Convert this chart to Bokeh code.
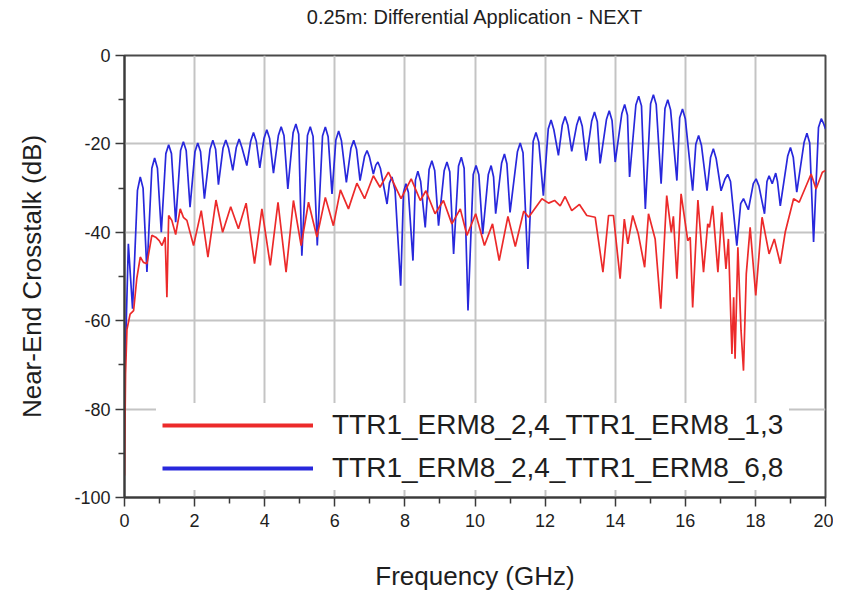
from bokeh.plotting import figure
from bokeh.models import Range1d, FixedTicker, Legend, LegendItem, PrintfTickFormatter, Title
from bokeh.embed import file_html
from bokeh.resources import INLINE

# ---- data ----
title_text = "0.25m: Differential Application - NEXT"
x_ticks = [0, 2, 4, 6, 8, 10, 12, 14, 16, 18, 20]
y_ticks = [0, -20, -40, -60, -80, -100]

blue_label = "TTR1_ERM8_2,4_TTR1_ERM8_6,8"
red_label = "TTR1_ERM8_2,4_TTR1_ERM8_1,3"

blue_freq = [0.00, 0.11, 0.23, 0.37, 0.45, 0.53, 0.64, 0.78, 0.86, 0.94, 1.05, 1.18, 1.26, 1.34, 1.46,
             1.60, 1.68, 1.76, 1.87, 2.01, 2.09, 2.17, 2.28, 2.44, 2.52, 2.60, 2.68, 2.81, 2.89, 2.97,
             3.09, 3.19, 3.27, 3.35, 3.49, 3.60, 3.68, 3.76, 3.86, 3.98, 4.06, 4.14, 4.25, 4.39, 4.47,
             4.55, 4.66, 4.81, 4.89, 4.97, 5.06, 5.22, 5.30, 5.38, 5.50, 5.65, 5.73, 5.81, 5.92, 6.03,
             6.11, 6.19, 6.33, 6.46, 6.54, 6.62, 6.72, 6.85, 6.92, 6.99, 7.10, 7.17, 7.23, 7.30, 7.49,
             7.56, 7.63, 7.72, 7.88, 7.96, 8.03, 8.10, 8.23, 8.30, 8.37, 8.45, 8.58, 8.69, 8.77, 8.85,
             8.96, 9.12, 9.20, 9.28, 9.39, 9.53, 9.61, 9.69, 9.80, 9.95, 10.03, 10.11, 10.22, 10.38,
             10.46, 10.53, 10.59, 10.76, 10.84, 10.91, 11.00, 11.21, 11.29, 11.37, 11.51, 11.66, 11.74,
             11.82, 11.95, 12.09, 12.17, 12.25, 12.38, 12.49, 12.57, 12.65, 12.76, 12.90, 12.98, 13.06,
             13.17, 13.33, 13.41, 13.49, 13.57, 13.75, 13.83, 13.91, 14.00, 14.19, 14.27, 14.35, 14.41,
             14.59, 14.67, 14.75, 14.86, 15.01, 15.09, 15.17, 15.31, 15.42, 15.50, 15.58, 15.76, 15.84,
             15.92, 16.00, 16.21, 16.30, 16.38, 16.46, 16.62, 16.72, 16.80, 16.88, 17.02, 17.13, 17.21,
             17.29, 17.47, 17.58, 17.66, 17.80, 17.94, 18.02, 18.10, 18.26, 18.33, 18.39, 18.48, 18.58,
             18.63, 18.71, 18.92, 19.00, 19.08, 19.18, 19.39, 19.47, 19.55, 19.66, 19.80, 19.88, 19.95,
             20.00]
blue_db = [-75.0, -42.6, -57.3, -30.5, -27.5, -30.0, -49.0, -25.5, -23.2, -25.5, -40.0, -22.2, -20.2, -22.2, -37.7,
           -21.5, -19.5, -21.5, -34.3, -21.8, -19.8, -21.8, -32.4, -21.2, -19.2, -21.2, -29.2, -21.0, -19.1, -21.0,
           -26.0, -20.8, -18.9, -20.8, -24.9, -19.4, -17.4, -19.4, -25.4, -18.8, -16.8, -18.8, -26.6, -18.1, -16.1,
           -18.1, -30.2, -17.5, -15.5, -17.8, -45.3, -18.1, -16.1, -18.3, -43.0, -18.2, -16.2, -18.4, -31.3, -19.1,
           -17.1, -19.3, -28.7, -21.0, -19.2, -21.2, -28.3, -22.8, -21.5, -23.0, -26.8, -24.8, -24.1, -25.5, -33.6,
           -28.8, -27.5, -30.5, -52.1, -31.0, -29.0, -31.0, -46.4, -28.2, -26.2, -28.5, -38.9, -25.8, -23.8, -26.0,
           -38.5, -26.1, -24.1, -26.3, -44.9, -25.0, -23.0, -25.5, -57.7, -26.9, -24.9, -27.0, -40.4, -26.9,
           -24.9, -27.5, -35.8, -24.3, -22.3, -24.5, -35.5, -21.8, -19.8, -22.0, -48.3, -19.4, -17.4,
           -19.6, -31.7, -16.6, -14.6, -16.8, -22.6, -15.8, -13.8, -15.8, -21.7, -15.8, -13.8, -16.0,
           -23.8, -14.8, -12.8, -15.0, -24.4, -14.5, -12.5, -14.7, -24.1, -13.1, -11.1, -13.5, -27.5,
           -11.2, -9.2, -11.4, -34.7, -10.9, -8.9, -11.1, -29.0, -12.0, -10.0, -12.3, -28.3, -14.1,
           -12.1, -14.3, -30.6, -20.1, -18.1, -20.3, -30.6, -23.1, -21.1, -23.3, -30.6, -28.0, -26.9,
           -28.5, -43.0, -33.5, -32.4, -34.9, -29.0, -27.9, -29.5, -35.8, -28.5, -27.2, -29.0, -26.6,
           -28.5, -34.0, -22.8, -20.8, -23.0, -30.9, -19.6, -17.6, -19.8, -42.2, -16.3, -14.3, -15.5,
           -16.6]

red_freq = [0.00, 0.03, 0.07, 0.16, 0.26, 0.35, 0.45, 0.54, 0.64, 0.78, 0.89, 0.99, 1.07, 1.16, 1.21, 1.26,
            1.35, 1.46, 1.59, 1.68, 1.78, 1.97, 2.19, 2.38, 2.61, 2.80, 3.03, 3.25, 3.47, 3.71, 3.92,
            4.16, 4.38, 4.61, 4.82, 5.04, 5.25, 5.49, 5.73, 5.96, 6.16, 6.39, 6.63, 6.85, 7.10, 7.29,
            7.53, 7.89, 8.18, 8.44, 8.60, 8.86, 9.10, 9.34, 9.58, 9.77, 10.02, 10.27, 10.50, 10.69,
            10.94, 11.15, 11.39, 11.53, 11.91, 12.10, 12.27, 12.43, 12.57, 12.76, 12.98, 13.19, 13.43,
            13.65, 13.81, 13.95, 14.14, 14.26, 14.36, 14.50, 14.66, 14.84, 14.95, 15.14, 15.30, 15.47,
            15.60, 15.66, 15.76, 15.88, 16.07, 16.14, 16.21, 16.36, 16.52, 16.64, 16.69, 16.78, 16.93,
            17.04, 17.16, 17.23, 17.33, 17.38, 17.42, 17.50, 17.59, 17.66, 17.74, 17.85, 18.01, 18.19,
            18.39, 18.54, 18.71, 18.85, 19.09, 19.25, 19.59, 19.73, 19.91, 20.00]
red_db = [-95.0, -72.0, -62.0, -58.5, -57.7, -50.5, -45.6, -46.8, -47.1, -40.7, -41.1, -41.9, -43.0, -41.1, -54.7, -36.2,
          -37.3, -40.5, -34.7, -36.6, -37.3, -43.0, -35.1, -45.6, -32.7, -40.0, -34.2, -39.2, -33.4, -47.1, -34.7,
          -47.5, -33.2, -49.0, -32.8, -43.0, -33.2, -41.1, -32.1, -38.5, -30.4, -34.7, -28.9, -32.4, -27.2, -29.8,
          -26.4, -32.4, -27.9, -32.8, -30.6, -35.8, -32.8, -38.1, -34.7, -40.7, -35.8, -43.0, -38.1, -46.4,
          -36.4, -43.2, -35.2, -36.6, -32.4, -33.4, -32.8, -34.0, -31.9, -35.1, -33.7, -36.2, -36.6,
          -49.0, -36.2, -36.2, -50.5, -37.0, -42.6, -36.2, -40.4, -47.9, -35.8, -41.5, -57.3, -31.7,
          -40.0, -36.4, -50.5, -31.3, -41.9, -41.1, -57.0, -32.7, -49.0, -38.1, -38.9, -34.0, -49.0,
          -35.5, -48.3, -41.5, -67.5, -54.7, -68.6, -43.4, -62.2, -71.3, -49.4, -38.9, -54.3, -36.6,
          -44.9, -41.5, -47.1, -40.0, -32.4, -33.2, -26.8, -30.2, -26.4, -26.0]

RED = "#ec2a2a"
BLUE = "#2828dc"
FONT = "Liberation Sans"
TXT = "#1e1e1e"

p = figure(title=None, frame_width=701, frame_height=442, output_backend="svg", toolbar_location=None,
           x_range=Range1d(0, 20), y_range=Range1d(-100, 0),
           min_border_left=124, min_border_right=8, min_border_top=55, min_border_bottom=60)
p.background_fill_color = "white"
p.border_fill_color = "white"
p.outline_line_color = "#4a4a4a"
p.outline_line_width = 2

# spacer panel next to the frame, then the real title further out
p.add_layout(Title(text=" ", text_font_size="2px", standoff=24), "above")
p.add_layout(Title(text=title_text, align="center", vertical_align="bottom", standoff=0,
                   text_font=FONT, text_font_size="20px", text_font_style="normal",
                   text_color=TXT), "above")

p.xaxis.ticker = FixedTicker(ticks=x_ticks, minor_ticks=list(range(1, 20, 2)))
p.yaxis.ticker = FixedTicker(ticks=y_ticks, minor_ticks=[-10, -30, -50, -70, -90])
p.xaxis.formatter = PrintfTickFormatter(format="%d")
p.yaxis.formatter = PrintfTickFormatter(format="%d")
for ax in (p.xaxis[0], p.yaxis[0]):
    ax.axis_line_color = "#3a3a3a"
    ax.axis_line_width = 2
    ax.major_tick_line_color = "#3a3a3a"
    ax.major_tick_line_width = 1.5
    ax.minor_tick_line_color = "#3a3a3a"
    ax.minor_tick_line_width = 1.5
    ax.major_tick_in = 0
    ax.major_tick_out = 9
    ax.minor_tick_in = 0
    ax.minor_tick_out = 6
    ax.major_label_text_font = FONT
    ax.major_label_text_font_size = "18px"
    ax.major_label_text_color = TXT
    ax.axis_label_text_font = FONT
    ax.axis_label_text_font_size = "26px"
    ax.axis_label_text_font_style = "normal"
    ax.axis_label_text_color = TXT

p.xaxis.axis_label = "Frequency (GHz)"
p.yaxis.axis_label = "Near-End Crosstalk (dB)"
p.xaxis.major_label_standoff = 7
p.yaxis.major_label_standoff = 5
p.xaxis.axis_label_standoff = 31
p.yaxis.axis_label_standoff = 24

p.grid.grid_line_color = "#c4c4c4"
p.grid.grid_line_width = 2

p.line(blue_freq, blue_db, line_color=BLUE, line_width=1.7)
p.line(red_freq, red_db, line_color=RED, line_width=1.7)

# legend swatches (thicker lines, nothing drawn in the plot area)
nan = float("nan")
r_leg = p.line([nan, nan], [nan, nan], line_color=RED, line_width=4)
b_leg = p.line([nan, nan], [nan, nan], line_color=BLUE, line_width=4)

legend = Legend(items=[LegendItem(label=red_label, renderers=[r_leg]),
                       LegendItem(label=blue_label, renderers=[b_leg])],
                location=(32, 7), orientation="vertical")
legend.margin = 0
legend.padding = 6
legend.spacing = 11
legend.glyph_width = 151
legend.glyph_height = 30
legend.label_height = 30
legend.label_standoff = 19
legend.label_text_font = FONT
legend.label_text_font_size = "28px"
legend.label_text_color = TXT
legend.border_line_alpha = 0
legend.background_fill_color = "white"
legend.background_fill_alpha = 1.0
p.add_layout(legend)

open("out.html", "w").write(file_html(p, INLINE))
